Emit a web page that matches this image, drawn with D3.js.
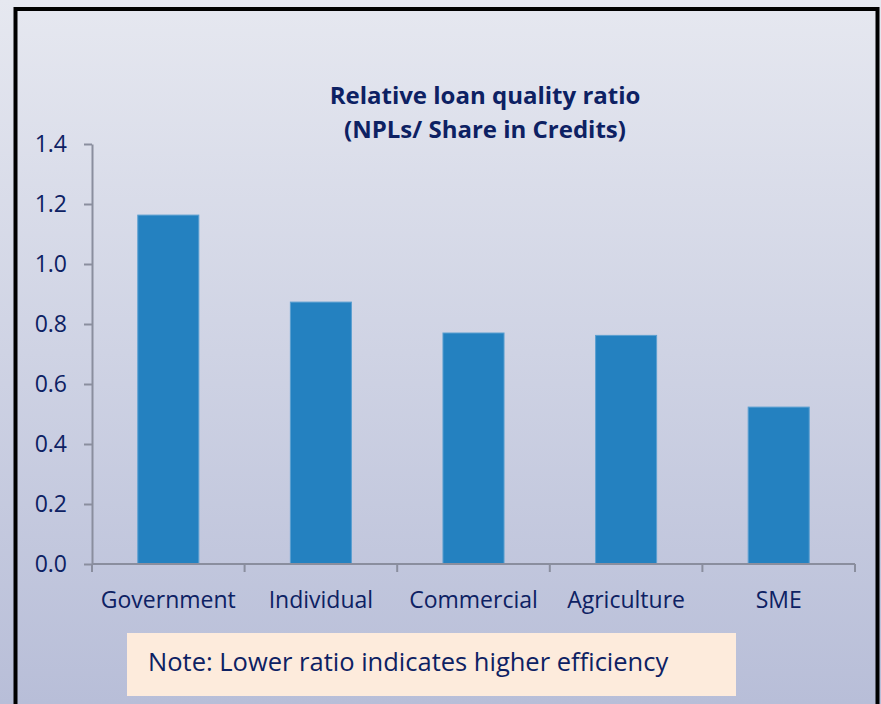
<!DOCTYPE html>
<html>
<head>
<meta charset="utf-8">
<script src="https://cdnjs.cloudflare.com/ajax/libs/d3/7.8.5/d3.min.js"></script>
<style>
  html, body { margin: 0; padding: 0; }
  body { width: 881px; height: 704px; overflow: hidden; }
  text { font-family: "Open Sans", "Noto Sans", sans-serif; }
</style>
</head>
<body>
<div id="chart"></div>
<script>
// data
var categories = ["Government", "Individual", "Commercial", "Agriculture", "SME"];
var ratios = [1.163, 0.873, 0.770, 0.762, 0.523];
var yTicks = [0, 0.2, 0.4, 0.6, 0.8, 1.0, 1.2, 1.4];
var titleLines = ["Relative loan quality ratio", "(NPLs/ Share in Credits)"];
var noteText = "Note: Lower ratio indicates higher efficiency";

var width = 881, height = 704;
var navy = "#0d2163";
var axisGrey = "#8a8e9e";

var svg = d3.select("#chart").append("svg")
    .attr("width", width)
    .attr("height", height);

// slide style background
var grad = svg.append("defs").append("linearGradient")
    .attr("id", "bg")
    .attr("x1", 0).attr("y1", 0).attr("x2", 0).attr("y2", 1);
grad.append("stop").attr("offset", "0%").attr("stop-color", "#e6e8f0");
grad.append("stop").attr("offset", "100%").attr("stop-color", "#b8bed8");

svg.append("rect")
    .attr("width", width).attr("height", height)
    .attr("fill", "url(#bg)");

// black frame
svg.append("rect")
    .attr("x", 15.5).attr("y", 9)
    .attr("width", 862).attr("height", 720)
    .attr("fill", "none")
    .attr("stroke", "#000")
    .attr("stroke-width", 4);

var x = d3.scaleBand()
    .domain(categories)
    .range([92, 855])
    .paddingInner(0.6)
    .paddingOuter(0.3);

var y = d3.scaleLinear()
    .domain([0, 1.4])
    .range([564, 144]);

// bars
svg.selectAll(".bar")
    .data(ratios)
    .enter().append("rect")
    .attr("class", "bar")
    .attr("x", function(d, i) { return x(categories[i]); })
    .attr("y", function(d) { return y(d); })
    .attr("width", x.bandwidth())
    .attr("height", function(d) { return y(0) - y(d); })
    .attr("fill", "#2481c0")
    .attr("stroke", "#5b9fd0")
    .attr("stroke-width", 1);

// y axis
var yAxis = svg.append("g")
    .attr("transform", "translate(92,0)")
    .call(d3.axisLeft(y)
        .tickValues(yTicks)
        .tickFormat(d3.format(".1f"))
        .tickSize(8)
        .tickSizeOuter(0)
        .tickPadding(17));

yAxis.select(".domain").attr("stroke", axisGrey).attr("stroke-width", 2);
yAxis.selectAll(".tick line").attr("stroke", axisGrey).attr("stroke-width", 2);
yAxis.selectAll(".tick text")
    .attr("fill", navy)
    .style("font-size", "23px");

// x axis, ticks sit on the band edges
var xAxis = svg.append("g")
    .attr("transform", "translate(0,564)");
xAxis.append("line")
    .attr("x1", 92).attr("x2", 855)
    .attr("stroke", axisGrey).attr("stroke-width", 2);
var edges = categories.map(function(c) { return x(c) - x.step() * x.paddingInner() / 2; });
edges.push(855);
xAxis.selectAll(".edge")
    .data(edges)
    .enter().append("line")
    .attr("class", "edge")
    .attr("x1", function(d) { return d; })
    .attr("x2", function(d) { return d; })
    .attr("y1", 0).attr("y2", 8)
    .attr("stroke", axisGrey).attr("stroke-width", 2);
xAxis.selectAll(".cat")
    .data(categories)
    .enter().append("text")
    .attr("class", "cat")
    .attr("x", function(d) { return x(d) + x.bandwidth() / 2; })
    .attr("y", 44)
    .attr("text-anchor", "middle")
    .attr("fill", navy)
    .style("font-size", "23px")
    .text(function(d) { return d; });

// title
svg.append("text")
    .attr("x", 485)
    .attr("text-anchor", "middle")
    .attr("fill", navy)
    .style("font-size", "24px")
    .style("font-weight", "bold")
    .selectAll("tspan")
    .data(titleLines)
    .enter().append("tspan")
    .attr("x", 485)
    .attr("y", function(d, i) { return 104 + i * 34; })
    .text(function(d) { return d; });

// note box
svg.append("rect")
    .attr("x", 127).attr("y", 633)
    .attr("width", 609).attr("height", 63)
    .attr("fill", "#fdebdc");
svg.append("text")
    .attr("x", 148).attr("y", 671)
    .attr("fill", navy)
    .style("font-size", "25.5px")
    .text(noteText);
</script>
</body>
</html>
